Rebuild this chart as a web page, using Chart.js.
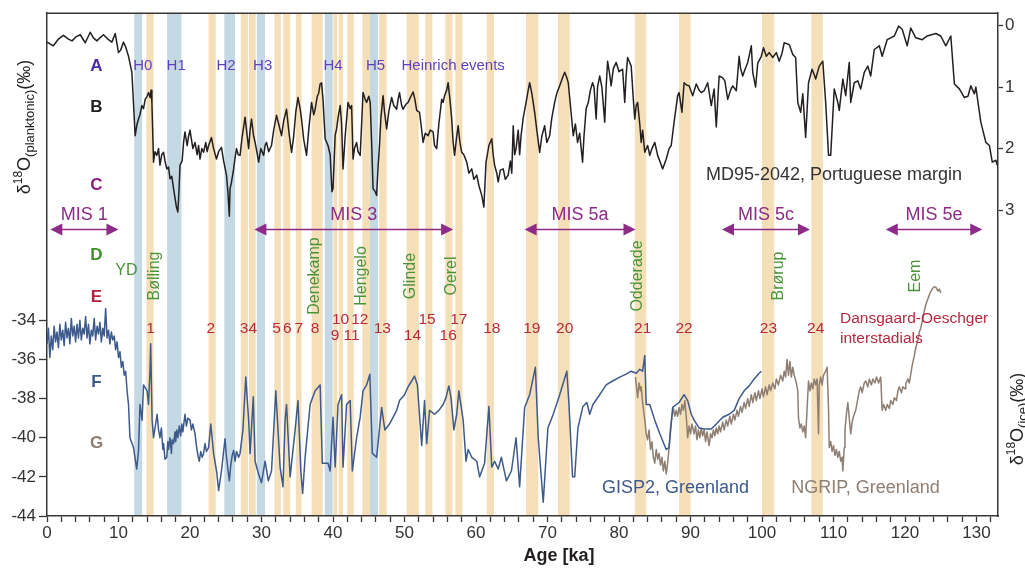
<!DOCTYPE html>
<html><head><meta charset="utf-8">
<script src="https://cdn.jsdelivr.net/npm/chart.js@4"></script>
<style>html,body{margin:0;padding:0;background:#fff}canvas{display:block}</style>
</head><body>
<canvas id="c" width="1025" height="570" style="width:1025px;height:570px"></canvas>
<script>
// ---------------- DATA ----------------
const mdAge = [0,0.9,1.6,2.3,3.0,3.5,4.1,4.65,5.35,6.05,6.5,6.98,7.4,7.9,8.5,9.08,9.54,10.0,10.3,10.7,11.0,11.4,11.87,12.33,12.6,12.8,13.0,13.27,13.5,13.73,14.0,14.2,14.43,14.55,14.67,14.9,15.1,15.36,15.6,15.8,16.05,16.3,16.5,16.76,17.0,17.2,17.45,17.7,17.9,18.1,18.3,18.45,18.6,18.9,19.1,19.3,19.6,19.8,20.0,20.2,20.4,20.7,21.0,21.2,21.4,21.65,21.9,22.2,22.4,22.6,23.0,23.3,23.7,24.0,24.4,24.7,25.1,25.3,25.5,25.6,25.8,26.1,26.3,26.5,26.75,27.0,27.3,27.5,27.7,28.0,28.2,28.4,28.6,28.9,29.1,29.35,29.6,29.9,30.3,30.5,30.7,31.0,31.4,31.7,32.1,32.4,32.8,33.1,33.5,33.8,34.2,34.5,34.8,35.1,35.4,35.6,35.9,36.3,36.6,37.0,37.3,37.5,37.8,38.0,38.2,38.4,38.6,38.9,39.3,39.6,39.85,40.0,40.3,40.5,40.7,41.0,41.2,41.4,41.7,42.1,42.4,42.6,42.8,43.0,43.3,43.5,43.8,44.0,44.2,44.5,44.7,45.0,45.2,45.4,45.6,45.9,46.1,46.3,46.5,46.7,47.0,47.2,47.5,47.8,48.2,48.5,48.9,49.1,49.3,49.6,49.8,50.2,50.5,50.9,51.2,51.45,51.7,52.1,52.3,52.6,52.9,53.3,53.6,54.0,54.2,54.5,54.8,55.2,55.4,55.6,55.9,56.1,56.35,56.6,56.8,57.0,57.3,57.5,57.75,58.0,58.3,58.7,59.0,59.4,59.7,60.1,60.4,60.8,61.1,61.4,61.8,62.2,62.4,62.6,62.9,63.1,63.4,63.8,64.1,64.5,64.8,65.0,65.2,65.4,65.6,65.9,66.1,66.3,66.6,67.0,67.3,67.5,67.8,68.2,68.5,68.9,69.2,69.6,69.9,70.3,70.6,71.0,71.3,71.7,72.1,72.4,72.7,72.9,73.2,73.6,73.9,74.2,74.5,74.9,75.1,75.4,75.7,76.0,76.3,76.5,76.8,77.0,77.3,77.6,78.0,78.2,78.4,78.7,78.9,79.2,79.6,80.0,80.5,80.8,81.0,81.2,81.5,81.7,82.0,82.2,82.4,82.6,82.9,83.1,83.3,83.6,84.0,84.3,84.6,85.0,85.4,85.7,86.1,86.6,87.0,87.3,87.7,88.2,88.4,88.8,89.1,89.5,89.8,90.3,90.8,91.2,91.5,91.9,92.4,92.9,93.3,93.6,94.0,94.5,94.8,95.2,95.6,95.9,96.4,96.8,97.0,97.3,97.6,98.0,98.5,98.7,99.1,99.4,99.9,100.2,100.6,101.0,101.5,102.0,102.4,102.8,103.1,103.8,104.3,104.7,105.0,105.4,105.7,106.1,106.5,107.0,107.3,107.5,108.0,108.5,108.9,109.3,109.6,110.1,110.6,110.8,111.3,111.7,112.2,112.4,112.9,113.4,113.8,114.3,114.8,115.2,115.7,116.4,116.8,117.5,118.0,118.5,119.1,119.6,120.3,120.8,121.5,122.4,123.1,124.3,125.0,125.7,126.4,126.9,127.6,128.3,128.8,129.2,129.7,129.9,130.6,131.3,131.8,132.2,132.7,132.9];
const mdD18O = [0.27,0.33,0.22,0.16,0.22,0.25,0.18,0.15,0.28,0.11,0.2,0.25,0.2,0.15,0.22,0.27,0.13,0.44,0.4,0.27,0.35,0.5,0.76,1.79,1.6,1.52,1.45,1.3,1.35,1.2,1.15,1.09,1.17,1.05,1.25,2.22,2.05,2.11,2.0,2.27,2.1,2.06,2.2,2.33,2.3,2.49,2.45,2.65,2.8,2.95,3.03,2.7,2.27,2.2,1.9,1.73,1.95,1.8,1.7,1.85,2.0,1.9,2.1,1.95,2.17,2.0,2.06,1.9,2.05,1.95,1.82,2.0,2.17,2.05,1.98,2.2,2.43,2.7,3.1,2.65,2.55,2.33,2.15,2.0,2.1,2.11,1.8,1.65,1.49,1.8,2.0,1.7,1.52,1.8,1.9,2.05,2.22,2.0,2.11,1.95,1.9,2.05,1.95,1.7,1.46,1.6,1.79,1.55,1.36,1.7,2.06,1.8,1.4,1.17,1.35,1.52,1.85,2.11,1.7,1.25,1.45,1.36,1.15,1.1,0.95,0.93,1.2,1.84,1.95,2.1,2.7,2.65,1.78,1.68,1.5,1.3,1.6,2.33,1.8,1.25,1.35,1.3,2.17,2.0,1.9,2.05,2.11,1.6,1.09,1.2,1.25,1.15,1.25,1.9,2.65,2.7,2.76,2.3,1.95,1.5,1.14,1.4,1.68,1.4,1.17,1.3,1.36,1.2,1.09,1.3,1.36,1.28,1.25,1.15,1.08,1.2,1.38,1.41,1.6,1.9,1.75,1.79,1.7,1.73,1.95,2.0,1.6,1.2,1.25,1.14,1.05,0.93,1.2,1.52,1.9,2.11,1.8,1.63,1.9,2.06,2.1,2.22,2.4,2.33,2.5,2.43,2.6,2.76,2.95,2.22,1.95,1.84,2.1,2.27,2.4,2.54,2.35,2.33,2.5,2.43,2.2,2.4,1.63,2.1,2.0,1.7,2.1,1.79,1.5,1.25,1.05,0.93,1.1,1.41,1.7,2.06,1.8,1.63,1.9,1.79,1.5,1.25,1.1,0.98,0.85,0.76,0.85,0.93,1.3,1.79,1.6,1.9,1.75,2.22,1.8,1.35,1.25,1.05,0.93,1.0,1.52,1.0,0.82,1.0,1.57,1.0,0.58,0.8,0.98,0.7,0.6,0.75,0.71,1.25,0.8,0.52,0.6,0.66,1.2,1.52,1.3,1.25,1.6,1.9,1.7,2.06,1.95,2.11,2.0,1.9,2.11,2.2,2.33,2.17,2.0,1.95,1.57,1.14,1.09,1.41,0.93,0.97,0.98,1.14,0.95,1.05,1.09,1.06,0.93,1.3,1.03,1.65,0.82,0.85,0.9,1.2,1.05,0.98,1.06,0.5,0.7,0.82,0.72,0.6,0.33,0.76,1.0,0.61,0.5,0.36,0.5,0.44,0.52,0.44,0.58,0.45,0.28,0.31,0.47,0.52,1.25,1.41,1.11,1.82,0.93,0.71,0.8,0.87,0.66,0.58,1.25,2.11,2.11,1.03,1.25,1.38,0.87,1.14,0.6,1.25,0.93,0.9,1.03,0.76,0.66,0.82,0.39,0.33,0.5,0.23,0.2,0.17,0.01,0.06,0.33,0.04,0.2,0.23,0.17,0.13,0.17,0.33,0.17,0.95,1.03,1.17,1.15,0.98,1.11,1.0,1.57,1.9,1.95,2.22,2.19,2.27];

const gispAge = [0,0.2,0.4,0.6,0.8,1.0,1.2,1.4,1.6,1.8,2.0,2.2,2.4,2.6,2.8,3.0,3.2,3.4,3.6,3.8,4.0,4.2,4.4,4.6,4.8,5.0,5.2,5.4,5.6,5.8,6.0,6.2,6.4,6.6,6.8,7.0,7.2,7.4,7.6,7.8,8.0,8.2,8.4,8.6,8.8,9.0,9.2,9.4,9.6,9.8,10.0,10.2,10.4,10.6,10.8,11.0,11.2,11.4,11.6,12.1,12.55,12.8,13.0,13.3,13.5,14.0,14.2,14.4,14.5,14.7,14.9,15.4,15.6,15.8,16.0,16.2,16.3,16.5,16.75,16.9,17.0,17.2,17.4,17.5,17.7,17.9,18.0,18.15,18.3,18.5,18.7,18.85,19.0,19.3,19.5,19.7,20.0,20.2,20.4,20.7,20.9,21.1,21.3,21.5,21.7,21.9,22.1,22.3,22.6,22.9,23.3,23.75,24.0,24.4,24.9,25.1,25.3,25.5,25.7,25.9,26.1,26.3,26.5,26.8,27.0,27.4,27.8,28.2,28.4,28.85,29.1,29.55,30.0,30.5,30.95,31.4,32.0,32.6,33.0,33.3,33.5,34.0,34.7,35.1,35.5,35.75,36.1,36.8,37.5,38.2,38.5,39.3,39.6,40.0,40.3,40.7,41.2,41.4,41.9,42.4,42.7,43.3,43.8,44.2,44.7,45.15,45.5,46.1,46.8,47.25,47.9,48.9,49.3,50.0,50.5,51.0,51.4,51.8,52.4,52.8,53.1,53.5,54.2,54.8,55.4,55.8,56.2,56.5,56.9,57.3,57.6,58.0,58.2,58.6,58.9,59.4,60.1,60.5,61.2,61.8,62.2,62.6,63.1,63.55,64.25,64.95,65.6,66.1,66.8,67.5,68.3,68.7,69.4,70.05,70.8,71.7,72.7,73.0,73.5,73.8,74.25,74.95,75.5,75.9,76.35,77.3,78.2,79.1,80.1,81.0,81.7,82.4,82.9,83.3,83.6,83.8,84.3,85.0,85.7,86.6,87.0,87.5,88.4,89.1,89.6,90.1,90.5,91.2,91.9,92.9,93.6,94.5,95.4,96.1,96.8,97.5,98.2,98.9,99.6,99.9];
const gispD18O = [-35.2,-34.4,-35.9,-34.8,-35.5,-34.3,-35.1,-34.6,-35.4,-34.2,-35.0,-34.5,-35.3,-34.1,-34.9,-34.4,-35.2,-33.9,-34.8,-34.3,-35.1,-34.2,-34.9,-34.0,-35.0,-34.4,-34.7,-33.8,-34.9,-34.2,-35.2,-34.5,-34.8,-33.9,-35.0,-34.3,-34.7,-34.1,-35.1,-34.4,-34.8,-33.4,-34.9,-34.5,-35.2,-34.6,-35.0,-34.8,-35.5,-35.1,-35.9,-35.6,-36.4,-36.1,-36.8,-36.6,-37.6,-38.3,-40.0,-40.5,-41.6,-40.65,-38.3,-39.1,-37.3,-37.6,-38.3,-36.6,-35.2,-39.1,-40.0,-38.8,-39.6,-40.0,-39.5,-40.6,-40.3,-41.1,-41.0,-40.2,-40.6,-40.0,-40.8,-40.1,-40.3,-39.7,-40.2,-39.6,-40.0,-39.4,-39.9,-39.3,-39.7,-38.8,-39.4,-39.0,-39.1,-39.6,-39.3,-39.8,-40.4,-40.9,-41.2,-40.7,-41.0,-40.8,-40.3,-40.7,-40.5,-39.3,-40.8,-41.8,-42.7,-41.7,-40.05,-41.0,-41.6,-42.2,-41.4,-40.9,-40.65,-41.2,-40.7,-41.0,-40.8,-39.6,-36.9,-39.1,-40.8,-37.9,-41.2,-41.8,-42.3,-41.2,-42.2,-41.7,-37.6,-41.5,-42.5,-39.1,-38.3,-42.0,-39.6,-38.1,-41.7,-42.85,-41.0,-38.3,-37.6,-37.3,-41.3,-41.3,-41.7,-38.95,-41.5,-38.3,-37.8,-41.5,-38.3,-38.1,-41.7,-40.0,-38.95,-37.6,-37.3,-36.75,-40.8,-41.0,-38.45,-39.6,-39.3,-38.6,-38.1,-37.8,-37.4,-37.1,-36.85,-37.3,-40.4,-38.1,-40.3,-38.6,-38.8,-38.6,-38.3,-37.95,-37.35,-37.95,-39.6,-38.8,-37.6,-38.6,-39.1,-41.2,-40.6,-41.0,-41.2,-42.0,-41.3,-38.4,-41.5,-41.2,-41.6,-41.0,-42.2,-41.7,-40.0,-42.5,-38.45,-37.8,-36.4,-40.0,-43.3,-39.5,-38.8,-37.8,-36.6,-38.3,-42.0,-42.0,-39.5,-38.4,-38.2,-38.8,-38.3,-37.8,-37.3,-37.1,-36.9,-36.75,-36.6,-36.7,-36.5,-36.6,-35.8,-38.3,-38.3,-39.1,-39.8,-40.6,-40.5,-38.45,-38.2,-37.8,-38.1,-38.8,-39.1,-39.5,-39.55,-39.55,-39.3,-38.95,-38.8,-38.6,-38.0,-37.6,-37.35,-37.0,-36.7,-36.6];

const ngripAge = [82.3,82.5,82.6,82.8,83.0,83.1,83.3,83.6,83.8,84.0,84.2,84.4,84.6,84.8,85.0,85.2,85.4,85.6,85.8,86.0,86.2,86.4,86.6,86.8,87.0,87.2,87.4,87.6,87.8,88.0,88.2,88.4,88.6,88.8,89.0,89.2,89.4,89.6,89.8,90.0,90.2,90.5,90.7,90.9,91.1,91.3,91.5,91.7,91.9,92.1,92.3,92.6,92.8,93.0,93.2,93.4,93.6,93.8,94.0,94.2,94.5,94.7,95.0,95.2,95.5,95.7,96.0,96.2,96.5,96.7,97.0,97.2,97.5,97.7,98.0,98.2,98.5,98.7,99.0,99.2,99.5,99.7,100.0,100.2,100.5,100.7,101.0,101.2,101.5,101.8,102.0,102.3,102.6,102.9,103.1,103.3,103.5,103.7,103.9,104.1,104.3,104.5,104.8,105.0,105.1,105.3,105.5,105.7,105.9,106.1,106.3,106.5,106.7,106.9,107.1,107.3,107.5,107.7,107.9,108.0,108.2,108.4,108.6,108.9,109.1,109.3,109.4,109.6,109.8,110.0,110.2,110.4,110.6,110.8,111.0,111.2,111.3,111.5,111.6,111.8,112.0,112.2,112.4,112.6,112.8,113.1,113.3,113.6,113.8,114.0,114.3,114.5,114.8,115.0,115.3,115.5,115.8,116.0,116.3,116.6,116.8,117.0,117.3,117.5,117.8,118.0,118.3,118.5,118.8,119.0,119.2,119.5,119.7,120.0,120.1,120.4,120.6,120.8,121.0,121.3,121.5,121.8,122.0,122.2,122.5,122.7,122.9,123.2,123.5,123.8,124.0,124.3,124.6,124.8,125.0];
const ngripD18O = [-36.9,-37.6,-37.95,-37.2,-37.6,-37.4,-38.2,-39.1,-39.8,-40.1,-39.6,-40.6,-40.2,-41.0,-41.3,-40.6,-41.1,-40.8,-41.4,-41.0,-41.7,-41.2,-41.85,-41.3,-40.5,-39.5,-38.9,-38.5,-38.9,-38.6,-38.9,-38.45,-38.8,-38.3,-38.6,-38.1,-38.9,-40.0,-39.4,-39.8,-39.3,-39.8,-39.4,-40.1,-39.6,-40.0,-39.5,-39.9,-39.6,-40.2,-39.7,-40.4,-39.8,-40.0,-39.6,-39.9,-39.5,-39.8,-39.4,-39.7,-39.2,-39.6,-39.1,-39.4,-38.9,-39.3,-38.8,-39.1,-38.6,-38.9,-38.4,-38.7,-38.2,-38.5,-38.0,-38.4,-37.8,-38.2,-37.7,-38.1,-37.6,-38.0,-37.5,-37.9,-37.4,-37.8,-37.3,-37.6,-37.2,-37.5,-37.0,-37.3,-36.8,-37.1,-36.6,-36.9,-36.0,-36.8,-36.1,-36.9,-36.4,-36.8,-37.2,-37.6,-39.0,-39.5,-39.3,-39.7,-39.4,-40.0,-38.5,-37.1,-37.6,-37.2,-37.5,-37.0,-37.3,-37.0,-39.8,-37.3,-36.9,-37.3,-36.8,-36.6,-36.4,-38.5,-40.5,-40.2,-40.7,-40.4,-40.9,-40.6,-41.0,-40.7,-41.2,-41.0,-41.7,-40.5,-39.6,-38.8,-38.2,-39.0,-39.8,-39.2,-38.9,-38.6,-38.2,-37.6,-37.4,-37.7,-37.2,-37.1,-37.4,-37.0,-37.3,-37.0,-37.2,-36.9,-37.2,-36.9,-38.6,-38.3,-38.6,-38.3,-38.5,-38.1,-38.3,-37.95,-38.1,-37.6,-37.4,-37.7,-37.4,-37.5,-37.25,-37.0,-37.2,-36.75,-36.3,-35.8,-35.4,-35.0,-34.6,-34.4,-33.9,-33.5,-33.2,-32.9,-32.6,-32.4,-32.3,-32.3,-32.5,-32.4,-32.6];

const heinrichStart = [12.2,16.8,24.8,29.35,38.85,45.15];
const heinrichEnd   = [13.3,18.8,26.3,30.5,39.95,46.3];
const doStart = [13.9,22.6,27.1,28.25,31.8,33.05,34.8,37.0,40.05,40.8,42.0,44.1,46.45,50.3,52.9,55.7,57.1,61.5,67.0,71.45,82.2,88.4,100.0,106.9];
const doEnd   = [14.9,23.6,28.1,29.2,32.7,34.0,35.6,38.55,40.6,41.4,42.9,45.15,47.5,52.0,53.9,56.7,58.1,62.5,68.7,73.1,83.8,90.0,101.7,108.5];

const xTickLabels = [0,10,20,30,40,50,60,70,80,90,100,110,120,130];
const iceTickLabels = [-44,-42,-40,-38,-36,-34];
const plankTickLabels = [0,1,2,3];

const heinrichLabels = ['H0','H1','H2','H3','H4','H5','Heinrich events'];
const heinrichLabelAge = [13.4,18.06,25.04,30.16,40.0,45.95,56.8];
const doLabels = ['1','2','3','4','5','6','7','8','9','10','11','12','13','14','15','16','17','18','19','20','21','22','23','24'];
const doLabelAge = [14.5,22.9,27.55,28.8,32.1,33.6,35.2,37.5,40.3,41.05,42.6,43.75,46.9,51.1,53.15,56.1,57.6,62.2,67.8,72.4,83.3,89.1,100.9,107.5];
const doLabelRow = [1,1,1,1,1,1,1,1,2,0,2,0,1,2,0,2,0,1,1,1,1,1,1,1];
const stadialNames = ['Bølling','Denekamp','Hengelo','Glinde','Oerel','Odderade','Brørup','Eem'];
const stadialAge = [15.0,37.4,44.0,50.9,56.65,82.6,102.3,121.5];
const misNames = ['MIS 1','MIS 3','MIS 5a','MIS 5c','MIS 5e'];
const misStart = [0.46,29.0,66.8,94.4,117.3];
const misEnd   = [9.99,56.8,82.3,106.7,130.8];

// ---------------- STYLE ----------------
const FONT = "'Liberation Sans', Arial, Helvetica, sans-serif";
const AXIS = '#3b3634';
const C_ORANGE = '#f5dfb8', C_BLUE = '#c4d9e3';
const C_HEIN = '#5f3fc2', C_MIS = '#8e2a88', C_GREEN = '#4a9438', C_RED = '#b8283f';
const C_GISP = '#3d5a8c', C_NGRIP = '#8f7e72', C_MD = '#231f20';

const pts = (a, v) => a.map((x, i) => ({x, y: v[i]}));

function rich(ctx, x, y, angle, parts, color) {
  ctx.save(); ctx.translate(x, y); ctx.rotate(angle);
  ctx.fillStyle = color; ctx.textBaseline = 'alphabetic'; ctx.textAlign = 'left';
  let total = 0;
  parts.forEach(p => { ctx.font = p.f; p.w = ctx.measureText(p.t).width; total += p.w; });
  let cx = -total / 2;
  parts.forEach(p => { ctx.font = p.f; ctx.fillText(p.t, cx, p.dy || 0); cx += p.w; });
  ctx.restore();
}

const decor = {
  id: 'decor',
  beforeDraw(chart) {
    const {ctx, chartArea: ca} = chart; const xs = chart.scales.x;
    ctx.save();
    ctx.fillStyle = '#fff'; ctx.fillRect(0, 0, chart.width, chart.height);
    const band = (s, e, c) => { const a = xs.getPixelForValue(s), b = xs.getPixelForValue(e);
      ctx.fillStyle = c; ctx.fillRect(a, ca.top, b - a, ca.bottom - ca.top); };
    doStart.forEach((s, i) => band(s, doEnd[i], C_ORANGE));
    heinrichStart.forEach((s, i) => band(s, heinrichEnd[i], C_BLUE));
    ctx.restore();
  },
  afterDatasetsDraw(chart) {
    const {ctx, chartArea: ca} = chart; const xs = chart.scales.x;
    const X = v => xs.getPixelForValue(v);
    ctx.save();
    ctx.strokeStyle = AXIS; ctx.lineWidth = 1.5;
    ctx.beginPath(); ctx.moveTo(ca.left, ca.top); ctx.lineTo(ca.right, ca.top); ctx.stroke();
    ctx.textAlign = 'center'; ctx.textBaseline = 'middle';
    ctx.fillStyle = C_HEIN; ctx.font = '15px ' + FONT;
    heinrichLabels.forEach((t, i) => ctx.fillText(t, X(heinrichLabelAge[i]), 66));
    const letters = [['A', 66, '#4b2aa8'], ['B', 107, '#231f20'], ['C', 185, '#8a1f80'], ['D', 255, '#3f8f2c'],
                     ['E', 297, '#b0203c'], ['F', 382, '#3d5a8c'], ['G', 443, '#8f7e72']];
    ctx.font = 'bold 17px ' + FONT;
    letters.forEach(([t, y, c]) => { ctx.fillStyle = c; ctx.fillText(t, 96.5, y); });
    ctx.strokeStyle = C_MIS; ctx.fillStyle = C_MIS; ctx.lineWidth = 1.6;
    misNames.forEach((t, i) => {
      const a = X(misStart[i]), b = X(misEnd[i]), y = 229.5;
      ctx.beginPath(); ctx.moveTo(a + 8, y); ctx.lineTo(b - 8, y); ctx.stroke();
      ctx.beginPath(); ctx.moveTo(a, y); ctx.lineTo(a + 12, y - 6); ctx.lineTo(a + 12, y + 6); ctx.closePath(); ctx.fill();
      ctx.beginPath(); ctx.moveTo(b, y); ctx.lineTo(b - 12, y - 6); ctx.lineTo(b - 12, y + 6); ctx.closePath(); ctx.fill();
      ctx.font = '18px ' + FONT; ctx.fillText(t, (a + b) / 2, 215);
    });
    ctx.fillStyle = C_GREEN; ctx.font = '16px ' + FONT;
    stadialNames.forEach((t, i) => {
      ctx.save(); ctx.translate(X(stadialAge[i]), 276); ctx.rotate(-Math.PI / 2);
      ctx.fillText(t, 0, 0); ctx.restore();
    });
    ctx.fillText('YD', X(11.1), 271);
    ctx.fillStyle = C_RED; ctx.font = '15.5px ' + FONT;
    const rowY = [319.5, 328.5, 335.5];
    doLabels.forEach((t, i) => ctx.fillText(t, X(doLabelAge[i]), rowY[doLabelRow[i]]));
    ctx.textAlign = 'left';
    ctx.fillText('Dansgaard-Oeschger', 840, 318.5);
    ctx.fillText('interstadials', 840, 338.5);
    ctx.font = '18px ' + FONT; ctx.textAlign = 'center';
    ctx.fillStyle = '#333'; ctx.fillText('MD95-2042, Portuguese margin', 834, 175);
    ctx.fillStyle = C_GISP; ctx.fillText('GISP2, Greenland', 675.5, 488.5);
    ctx.fillStyle = C_NGRIP; ctx.fillText('NGRIP, Greenland', 865.5, 488.5);
    ctx.fillStyle = '#231f20'; ctx.font = 'bold 18px ' + FONT; ctx.fillText('Age [ka]', 559, 556);
    const big = '18px ' + FONT, sup = '12px ' + FONT, sub = '13px ' + FONT;
    rich(ctx, 30, 127, -Math.PI / 2, [{t: 'δ', f: big}, {t: '18', f: sup, dy: -8}, {t: 'O', f: big},
      {t: '(planktonic)', f: sub, dy: 4}, {t: '(‰)', f: big}], '#231f20');
    rich(ctx, 1023, 419, -Math.PI / 2, [{t: 'δ', f: big}, {t: '18', f: sup, dy: -8}, {t: 'O', f: big},
      {t: '(ice)', f: sub, dy: 4}, {t: '(‰)', f: big}], '#231f20');
    ctx.restore();
  }
};

const tickFont = {family: FONT, size: 17};
new Chart(document.getElementById('c'), {
  type: 'line',
  data: {datasets: [
    {data: pts(mdAge, mdD18O), yAxisID: 'yP', borderColor: C_MD, borderWidth: 1.5, pointRadius: 0, order: 0},
    {data: pts(gispAge, gispD18O), yAxisID: 'yI', borderColor: C_GISP, borderWidth: 1.5, pointRadius: 0, order: 1},
    {data: pts(ngripAge, ngripD18O), yAxisID: 'yI', borderColor: C_NGRIP, borderWidth: 1.5, pointRadius: 0, order: 2}
  ]},
  options: {
    responsive: false, animation: false, devicePixelRatio: 1,
    layout: {padding: {top: 10, left: 0, right: 0, bottom: 0}},
    plugins: {legend: {display: false}, tooltip: {enabled: false}},
    elements: {line: {tension: 0, borderJoinStyle: 'round'}},
    scales: {
      x: {type: 'linear', position: 'bottom', min: 0, max: 133,
        afterBuildTicks: s => { const t = []; for (let v = 0; v <= 132; v += 2) t.push({value: v}); s.ticks = t; },
        afterFit: s => { s.height = 54; },
        ticks: {autoSkip: false, maxRotation: 0, color: '#333', font: tickFont, padding: 1,
          callback: v => xTickLabels.includes(v) ? String(v) : ''},
        grid: {drawOnChartArea: false, drawTicks: true, tickLength: 6, color: AXIS, tickWidth: 1.3},
        border: {display: true, color: AXIS, width: 1.5}},
      yI: {type: 'linear', position: 'left', min: -44, max: -18.3,
        afterBuildTicks: s => { s.ticks = iceTickLabels.map(v => ({value: v})); },
        afterFit: s => { s.width = 47; },
        ticks: {color: '#333', font: tickFont, padding: 3, callback: v => String(v)},
        grid: {drawOnChartArea: false, drawTicks: true, tickLength: 8, color: AXIS, tickWidth: 1.3},
        border: {display: true, color: AXIS, width: 1.5}},
      yP: {type: 'linear', position: 'right', min: -0.2, max: 7.97, reverse: true,
        afterBuildTicks: s => { s.ticks = plankTickLabels.map(v => ({value: v})); },
        afterFit: s => { s.width = 27; },
        ticks: {color: '#333', font: tickFont, padding: 2, callback: v => String(v)},
        grid: {drawOnChartArea: false, drawTicks: true, tickLength: 5, color: AXIS, tickWidth: 1.3},
        border: {display: true, color: AXIS, width: 1.5}}
    }
  },
  plugins: [decor]
});
</script>
</body></html>
